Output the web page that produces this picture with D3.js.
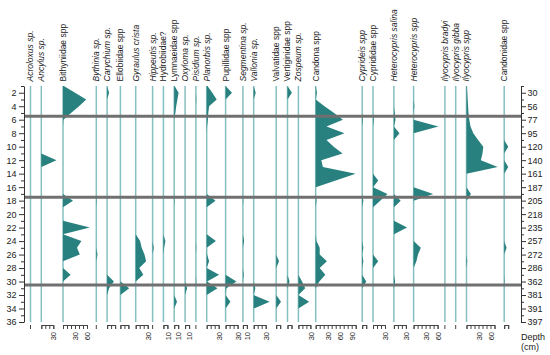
<!DOCTYPE html>
<html>
<head>
<meta charset="utf-8">
<script src="https://cdn.jsdelivr.net/npm/d3@7"></script>
<style>
  body { margin: 0; background: #fff; }
  svg { display: block; font-family: "Liberation Sans", Arial, sans-serif; }
  .base { stroke: #86bfbf; stroke-width: 1.5; }
  .taxon-area { fill: #28817f; }
  .zone { stroke: #707070; stroke-width: 3; }
  .taxon-name { font-size: 8.5px; fill: #222; }
  .side-axis text { font-size: 9px; fill: #222; }
  .side-axis path, .side-axis line { stroke: #333; }
  .pct-axis path, .pct-axis line { stroke: #444; }
  .pct-axis text { font-size: 7.5px; fill: #222; }
</style>
</head>
<body>
<svg id="chart" width="550" height="355"></svg>
<script>
'use strict';

(() => {

  //taxa, left to right
  const taxa = ['Acroloxus sp.', 'Ancylus sp.', 'Bithyniidae spp', 'Bythinia sp.', 'Carychium sp.',
    'Ellobiidae spp', 'Gyraulus crista', 'Hippeutis sp.', 'Hydrobiidae?', 'Lymnaeidae spp',
    'Oxyloma sp.', 'Pisidium sp.', 'Planorbis sp.', 'Pupillidae spp', 'Segmentina sp.',
    'Vallonia sp.', 'Valvatidae spp', 'Vertiginidae spp', 'Zospeum sp.', 'Candona spp',
    'Cyprideis spp', 'Cyprididae spp', 'Heterocypris salina', 'Heterocypris spp',
    'Ilyocypris bradyi', 'Ilyocypris gibba', 'Ilyocypris spp', 'Candonidae spp'];
  const italic = [1, 1, 0, 1, 1, 0, 1, 1, 0, 0, 1, 1, 1, 0, 1, 1, 0, 0, 1, 0, 1, 0, 1, 1, 1, 1, 1, 0];

  //percentages as [sample, %], zero where not listed
  const acroloxus = [];
  const ancylus = [[12, 38]];
  const bithyniidae = [[1, 2], [2, 30], [3, 58], [4, 40], [5, 20], [6, 1], [18, 25], [22, 67],
    [24, 46], [25, 35], [26, 42], [29, 19]];
  const bythinia = [[18, 1], [26, 3]];
  const carychium = [[2, 5], [30, 17], [31, 5]];
  const ellobiidae = [[31, 22]];
  const gyraulus = [[24, 11], [25, 15], [26, 22], [27, 26], [28, 9], [29, 19]];
  const hippeutis = [[25, 3]];
  const hydrobiidae = [[24, 5], [25, 2]];
  const lymnaeidae = [[1, 1], [2, 11], [3, 8], [4, 5], [5, 3], [18, 1], [33, 7]];
  const oxyloma = [[31, 5]];
  const pisidium = [[3, 1], [25, 1], [30, 1]];
  const planorbis = [[1, 2], [2, 14], [3, 25], [4, 6], [5, 4], [6, 3], [7, 1], [18, 22], [24, 23],
    [26, 1], [27, 6], [29, 31], [30, 1], [31, 27]];
  const pupillidae = [[2, 16], [30, 27], [31, 2], [33, 12]];
  const segmentina = [[18, 1], [24, 3], [29, 2]];
  const vallonia = [[2, 5], [31, 4], [33, 40]];
  const valvatidae = [[27, 7], [33, 12]];
  const vertiginidae = [[2, 11], [30, 5]];
  const zospeum = [[30, 9], [31, 17], [33, 27]];
  const candona = [[2, 3], [4, 22], [5, 46], [6, 68], [7, 27], [8, 72], [9, 27], [10, 45], [11, 67],
    [12, 14], [13, 18], [14, 100], [15, 50], [18, 2], [24, 2], [25, 10], [26, 10], [27, 28],
    [28, 10], [29, 24], [30, 9]];
  const cyprideis = [[6, 2], [18, 3], [25, 3], [27, 3], [30, 10]];
  const cyprididae = [[6, 2], [15, 13], [17, 36], [18, 18], [27, 13]];
  const heterocyprisSalina = [[5, 2], [6, 4], [8, 14], [18, 17], [22, 33], [30, 3]];
  const heterocyprisSpp = [[4, 2], [7, 62], [17, 49], [25, 18], [26, 11], [27, 7]];
  const ilyocyprisBradyi = [];
  const ilyocyprisGibba = [];
  const ilyocyprisSpp = [[1, 1], [2, 2], [3, 3], [4, 4], [5, 5], [6, 7], [7, 10], [8, 17], [9, 29],
    [10, 42], [11, 40], [12, 36], [13, 78], [17, 11], [27, 2]];
  const candonidae = [[10, 10], [13, 10], [25, 6], [30, 1]];

  const counts = [acroloxus, ancylus, bithyniidae, bythinia, carychium, ellobiidae, gyraulus,
    hippeutis, hydrobiidae, lymnaeidae, oxyloma, pisidium, planorbis, pupillidae, segmentina,
    vallonia, valvatidae, vertiginidae, zospeum, candona, cyprideis, cyprididae,
    heterocyprisSalina, heterocyprisSpp, ilyocyprisBradyi, ilyocyprisGibba, ilyocyprisSpp, candonidae];

  //percent scale under each column: end of scale and labelled ticks
  const scaleMax = [0, 30, 60, 0, 20, 20, 30, 0, 10, 10, 10, 0, 30, 30, 10, 30, 10, 10, 30, 100,
    10, 30, 30, 60, 0, 0, 70, 10];
  const scaleLabels = [[], [30], [30, 60], [], [], [], [30], [], [10], [10], [10], [], [30], [30], [10],
    [30], [], [], [30], [30, 60, 90], [], [30], [30], [30, 60], [], [], [30, 60], []];

  const samples = d3.range(1, 37);
  const depthLabels = [30, 56, 77, 95, 120, 140, 161, 187, 205, 218, 235, 257, 272, 286, 362, 381, 391, 397];
  const zoneBreaks = [5.5, 17.5, 30.5];

  //scales
  const y = d3.scaleLinear().domain([1, 36]).range([86, 322]);
  const xv = d3.scaleLinear().domain([0, 100]).range([0, 40]); //same % scale in every column
  const left = 24;
  const right = 521;

  //column x: each takes its max width plus a gap
  const colX = [];
  let cx = 30.5;
  counts.forEach((c) => {
    colX.push(cx);
    cx += Math.max(xv(d3.max(c, (d) => d[1]) || 0), 4.3) + 6.5;
  });

  const svg = d3.select('#chart');

  const area = d3.area()
    .y((d) => y(d.s))
    .x0(0)
    .x1((d) => xv(d.v));

  counts.forEach((c, i) => {
    const vals = new Map(c);
    const series = samples.map((s) => ({ s, v: vals.get(s) || 0 }));
    const g = svg.append('g').attr('transform', `translate(${colX[i]},0)`);

    g.append('line')
      .attr('class', 'base')
      .attr('x1', 0).attr('x2', 0)
      .attr('y1', y(1)).attr('y2', y(36));
    g.append('path')
      .datum(series)
      .attr('class', 'taxon-area')
      .attr('d', area);

    //name on top
    g.append('text')
      .attr('class', 'taxon-name')
      .attr('transform', 'rotate(-90)')
      .attr('x', -81.5)
      .attr('y', 0)
      .attr('dy', '0.35em')
      .style('font-style', italic[i] ? 'italic' : 'normal')
      .text(taxa[i]);

    //% scale below
    const m = scaleMax[i];
    const sg = g.append('g')
      .attr('class', 'pct-axis')
      .attr('transform', 'translate(0,325)');
    if (m === 0) {
      sg.append('line').attr('y2', 4).attr('stroke', '#444');
    } else {
      const sx = d3.scaleLinear().domain([0, m]).range([0, xv(m)]);
      sg.call(d3.axisBottom(sx)
        .tickValues(d3.range(0, m + 1, 10))
        .tickSize(4)
        .tickSizeOuter(4)
        .tickFormat((d) => scaleLabels[i].includes(d) ? d : ''));
      sg.selectAll('text')
        .attr('transform', 'rotate(-90)')
        .attr('x', -7)
        .attr('y', 0)
        .attr('dy', '0.35em')
        .attr('text-anchor', 'end');
    }
  });

  //zone lines
  svg.selectAll('.zone')
    .data(zoneBreaks)
    .enter()
    .append('line')
    .attr('class', 'zone')
    .attr('x1', left).attr('x2', right)
    .attr('y1', (d) => y(d)).attr('y2', (d) => y(d));

  //sample axis on the left
  const la = svg.append('g')
    .attr('class', 'side-axis')
    .attr('transform', `translate(${left},0)`)
    .call(d3.axisLeft(y)
      .tickValues(samples)
      .tickSize(5)
      .tickSizeOuter(0)
      .tickPadding(2.5)
      .tickFormat((d) => d % 2 === 0 ? d : ''));
  la.selectAll('.tick').filter((d) => d % 2 === 1).select('line').attr('x2', -3);

  //depth axis on the right
  const ra = svg.append('g')
    .attr('class', 'side-axis')
    .attr('transform', `translate(${right},0)`)
    .call(d3.axisRight(y)
      .tickValues(samples)
      .tickSize(5)
      .tickSizeOuter(0)
      .tickPadding(1.5)
      .tickFormat((d) => d % 2 === 0 ? depthLabels[d / 2 - 1] : ''));
  ra.selectAll('.tick').filter((d) => d % 2 === 1).select('line').attr('x2', 3);

  svg.append('text')
    .attr('x', right)
    .attr('y', 340)
    .attr('font-size', 9)
    .attr('fill', '#222')
    .text('Depth');
  svg.append('text')
    .attr('x', right)
    .attr('y', 350)
    .attr('font-size', 9)
    .attr('fill', '#222')
    .text('(cm)');

})();
</script>
</body>
</html>
